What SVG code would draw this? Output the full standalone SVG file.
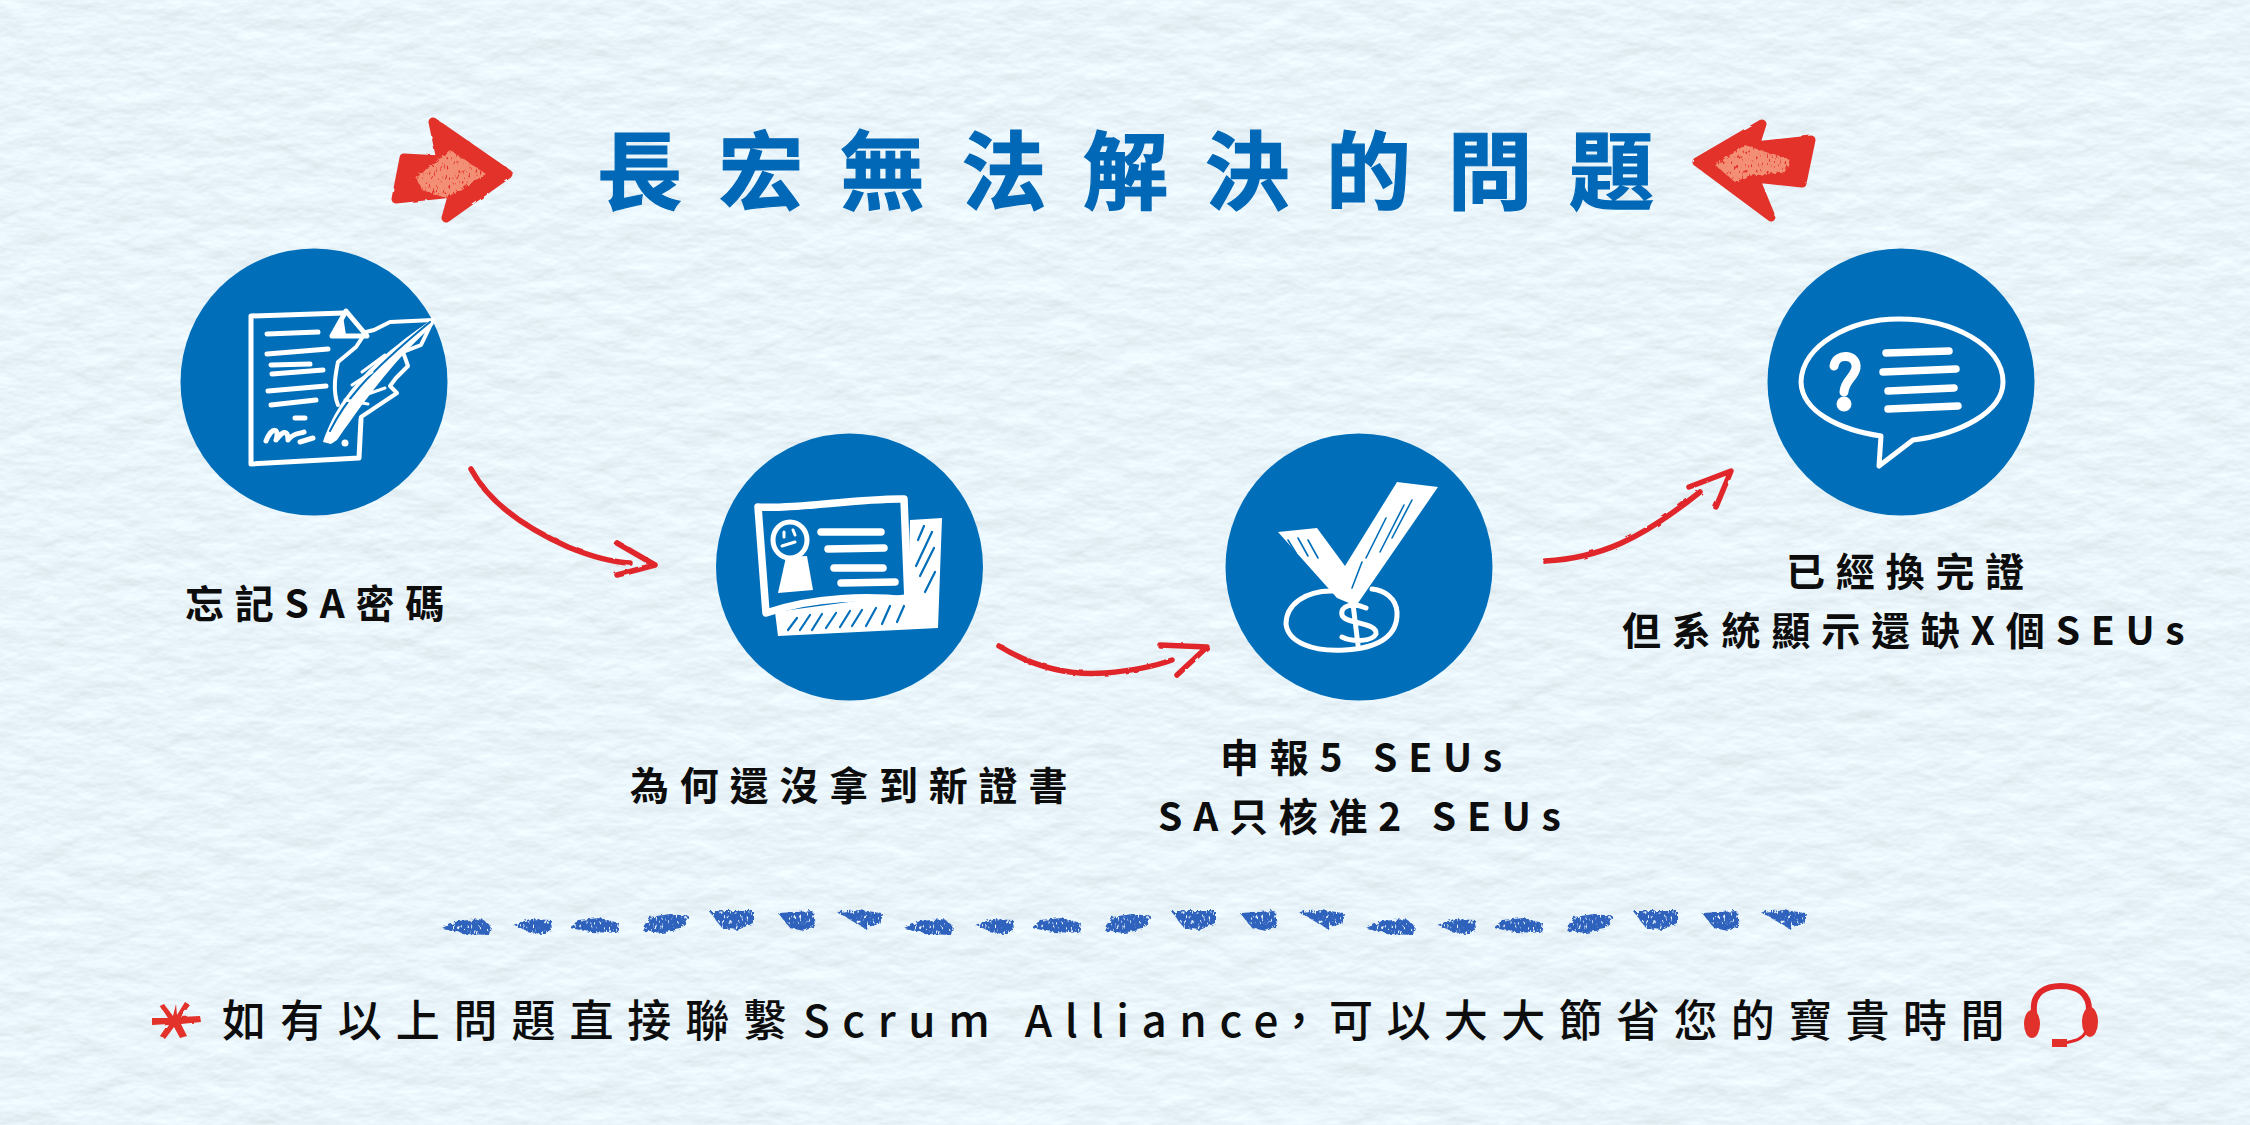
<svg xmlns="http://www.w3.org/2000/svg" xmlns:xlink="http://www.w3.org/1999/xlink" width="2250" height="1125" viewBox="0 0 2250 1125">
<style>
text{font-family:"Noto Sans CJK TC","Noto Sans",sans-serif}
.title{font-size:85px;font-weight:700;fill:#0068b7;stroke:#0068b7;stroke-width:1.2px;letter-spacing:36.5px}
.label{font-size:39px;font-weight:700;fill:#0d0d0d;letter-spacing:10.8px}
.note{font-size:44px;font-weight:500;fill:#0d0d0d;letter-spacing:13.9px}
.disc{fill:#006eb9}
.ink{fill:none;stroke:#fff;stroke-width:5;stroke-linecap:round;stroke-linejoin:round}
.ink7{fill:none;stroke:#fff;stroke-width:7.5;stroke-linecap:round;stroke-linejoin:round}
.solid{fill:#fff}
.hatch{fill:none;stroke:#006eb9;stroke-width:1.6;stroke-linecap:round}
.red{fill:none;stroke:#e0282a;stroke-width:5.5;stroke-linecap:round;stroke-linejoin:round}
.redfill{fill:#e2312b}
.dash{fill:#2f62bd}
</style>
<defs>
<filter id="paper" x="0" y="0" width="100%" height="100%" color-interpolation-filters="sRGB">
<feTurbulence type="fractalNoise" baseFrequency="0.022 0.042" numOctaves="4" seed="7" result="n"/>
<feDiffuseLighting in="n" surfaceScale="0.65" diffuseConstant="1.13" lighting-color="#e9f5fa"><feDistantLight azimuth="90" elevation="62"/></feDiffuseLighting>
</filter>
<filter id="crayon" x="-15%" y="-15%" width="130%" height="130%">
<feTurbulence type="fractalNoise" baseFrequency="0.25" numOctaves="2" seed="3" result="t"/>
<feDisplacementMap in="SourceGraphic" in2="t" scale="5" result="d"/>
<feTurbulence type="fractalNoise" baseFrequency="0.55 0.2" numOctaves="2" seed="11"/>
<feColorMatrix values="0 0 0 0 0 0 0 0 0 0 0 0 0 0 0 7 0 0 0 -1.7"/>
<feComposite in="d" operator="in"/>
</filter>
<filter id="rough" x="-10%" y="-10%" width="120%" height="120%">
<feTurbulence type="fractalNoise" baseFrequency="0.09" numOctaves="2" seed="5" result="t"/>
<feDisplacementMap in="SourceGraphic" in2="t" scale="2.5"/>
</filter>
<g id="dashes" class="dash" filter="url(#crayon)">
<path d="M442 928 L458 921 L482 919 L491 926 L489 935 L466 934 Z"/>
<path d="M513 925 L530 919 L551 920 L552 931 L540 934 L526 931 Z"/>
<path d="M570 928 L578 920 L600 918 L619 923 L617 933 L590 932 Z"/>
<path d="M643 931 L650 917 L670 914 L689 916 L681 929 L662 933 Z"/>
<path d="M709 911 L753 911 L753 923 L738 930 L722 928 Z"/>
<path d="M778 913 L813 911 L815 926 L804 931 L790 928 Z"/>
<path d="M837 912 L860 910 L882 913 L879 924 L864 928 Z"/>
</g>
</defs>
<rect id="background" width="2250" height="1125" fill="#e8f4f9" filter="url(#paper)"/>

<g id="title">
<text class="title" x="597" y="203">長宏無法解決的問題</text>
<g id="title-arrow-left">
<path class="redfill" stroke="#e2312b" stroke-width="9" stroke-linejoin="round" filter="url(#rough)" d="M404 158 L441 160 L433 122 L508 174 L446 218 L453 193 L396 199 Z"/>
<path fill="#f7a083" filter="url(#crayon)" opacity=".85" d="M416 178 L450 150 L486 174 L446 198 L422 190 Z"/>
</g>
<g id="title-arrow-right">
<path class="redfill" stroke="#e2312b" stroke-width="9" stroke-linejoin="round" filter="url(#rough)" d="M1697 162 L1762 124 L1755 146 L1811 140 L1802 183 L1755 178 L1771 217 Z"/>
<path fill="#f7a083" filter="url(#crayon)" opacity=".85" d="M1715 165 L1745 145 L1790 160 L1785 172 L1748 176 L1735 182 Z"/>
</g>
</g>

<g id="connectors">
<g filter="url(#rough)">
<g id="arrow-1"><path class="red" d="M471 469 C490 505 530 530 568 547 C590 556 610 562 630 563"/><path class="red" d="M617 543 L655 565 L617 575"/></g>
<g id="arrow-2"><path class="red" d="M999 646 C1030 665 1065 676 1105 673 C1130 671 1150 668 1172 660"/><path class="red" d="M1160 645 L1207 647 L1177 675"/></g>
<g id="arrow-3"><path class="red" d="M1545 561 C1600 558 1640 540 1700 492"/><path class="red" d="M1689 487 L1731 471 L1716 507"/></g>
</g>
</g>

<g id="node-1">
<circle class="disc" cx="314" cy="382" r="133.500"/>
<path class="ink" d="M251 316 L344 313 M251 316 L251 464 L359 458 L361 419"/>
<path class="ink" d="M332 336 L346 311 L367 336 Z"/>
<path class="solid" d="M332 336 L343 316 L346 335 Z"/>
<path class="ink" d="M267 334 L318 332 M267 354 L328 349 M271 365 L310 364 M272 374 L323 370 M268 391 L326 386 M271 405 L316 400 M295 418 L305 418"/>
<path class="ink" d="M266 441 C272 426 280 428 276 440 C282 432 288 428 288 440 C294 432 300 434 304 432 M300 442 L313 438"/>
<circle class="solid" cx="345" cy="443" r="3.500"/>
<path class="ink" style="stroke-width:4" d="M338 405 C332 390 336 372 338 362 L356 347 L366 332 L374 330 L390 322 L433 320 L421 345 L403 352 L408 366 L396 378 L390 386 L397 393 L361 417"/>
<path class="solid" d="M323 442 C336 405 358 370 431 320 L434 324 C395 360 372 390 337 440 L331 444 Z"/>
<path class="hatch" style="stroke-width:2" d="M330 431 C344 403 362 378 430 322"/>
<path class="ink" style="stroke-width:3" d="M352 385 L372 372 M362 372 L385 355 M365 395 L385 388 M345 400 L368 404"/>
</g>
<text class="label" x="185" y="618">忘記SA密碼</text>

<g id="node-2">
<circle class="disc" cx="849.500" cy="567" r="133.500"/>
<path class="solid" d="M910 520 L942 518 L938 628 L778 636 L775 612 L908 594 Z"/>
<path class="hatch" style="stroke-width:2.200" d="M918 540 L924 526 M916 566 L932 532 M920 576 L934 548 M925 592 L935 572 M788 630 L797 618 M800 630 L810 615 M812 630 L822 614 M826 628 L836 613 M840 627 L850 611 M852 626 L862 610 M866 626 L876 608 M882 624 L890 606 M897 622 L904 606"/>
<path class="ink7" d="M758 507 C790 510 860 498 904 499 L908 600 C870 596 815 596 766 613 Z"/>
<ellipse class="ink" cx="790" cy="540" rx="17" ry="18"/>
<path class="solid" d="M786 557 L807 556 L813 590 L778 593 Z"/>
<path class="ink" style="stroke-width:3" d="M784 532 L784 537 M793 530 L795 535 M782 546 L795 542"/>
<path class="ink7" d="M821 532 L881 532 M828 549 L884 548 M834 568 L883 568 M841 583 L895 582"/>
</g>
<text class="label" x="630" y="800">為何還沒拿到新證書</text>

<g id="node-3">
<circle class="disc" cx="1359" cy="567" r="133.500"/>
<path class="ink" d="M1334 591 C1305 590 1286 605 1286 624 C1288 642 1312 652 1345 650 C1380 648 1398 635 1397 612 C1396 598 1384 590 1372 589"/>
<path class="solid" d="M1278 532 L1317 528 L1345 566 L1397 482 L1438 487 L1356 606 L1337 598 Z"/>
<path class="hatch" d="M1288 540 L1296 553 M1298 538 L1308 556 M1308 540 L1318 558 M1366 558 L1386 518 M1380 552 L1404 505 M1392 538 L1412 500 M1352 588 L1362 562"/>
<path class="ink" d="M1366 608 C1352 602 1340 606 1342 615 C1344 624 1378 622 1376 634 C1372 642 1352 642 1342 637 M1353 604 L1358 645"/>
</g>
<text class="label" x="1220" y="772">申報5 SEUs</text>
<text class="label" x="1158" y="831">SA只核准2 SEUs</text>

<g id="node-4">
<circle class="disc" cx="1901" cy="382" r="133.500"/>
<path class="ink" d="M1881 436 C1840 430 1802 412 1801 382 C1802 345 1850 319 1899 319 C1952 319 2003 345 2003 382 C2003 412 1960 434 1913 440 L1879 466 Z"/>
<path class="ink7" d="M1886 353 L1949 351 M1883 372 L1956 369 M1888 391 L1954 388 M1888 409 L1958 406"/>
<path class="ink7" style="stroke-width:9" d="M1834 366 C1836 352 1858 354 1856 368 C1854 378 1845 380 1844 392"/>
<circle class="solid" cx="1844" cy="404" r="7.500"/>
</g>
<text class="label" x="1786" y="586">已經換完證</text>
<text class="label" x="1622" y="645">但系統顯示還缺X個SEUs</text>

<g id="divider">
<use href="#dashes"/>
<use href="#dashes" x="462"/>
<use href="#dashes" x="924"/>
</g>

<g id="footer">
<g id="star" filter="url(#rough)">
<path class="redfill" d="M176 1004 L173 1016 L164 1004 L160 1006 L168 1018 L152 1018 L152 1025 L168 1024 L160 1036 L165 1039 L174 1027 L180 1038 L187 1036 L181 1024 L201 1022 L200 1016 L181 1017 L190 1005 L185 1002 L177 1015 Z"/>
</g>
<text class="note" x="222" y="1037">如有以上問題直接聯繫<tspan x="803" style="letter-spacing:12.6px">Scrum Alliance</tspan><tspan x="1288" style="font-feature-settings:'palt';letter-spacing:0">，</tspan><tspan x="1329" style="letter-spacing:13.4px">可以大大節省您的寶貴時間</tspan></text>
<g id="headset">
<path class="red" style="stroke-width:6" d="M2034 1012 C2032 992 2046 986 2061 986 C2078 986 2090 994 2089 1012"/>
<ellipse class="redfill" cx="2032" cy="1024" rx="8" ry="14"/>
<ellipse class="redfill" cx="2090" cy="1022" rx="8" ry="15"/>
<path class="red" style="stroke-width:3" d="M2085 1033 C2082 1040 2072 1041 2065 1043"/>
<rect class="redfill" x="2052" y="1039" width="15" height="8"/>
</g>
</g>
</svg>
